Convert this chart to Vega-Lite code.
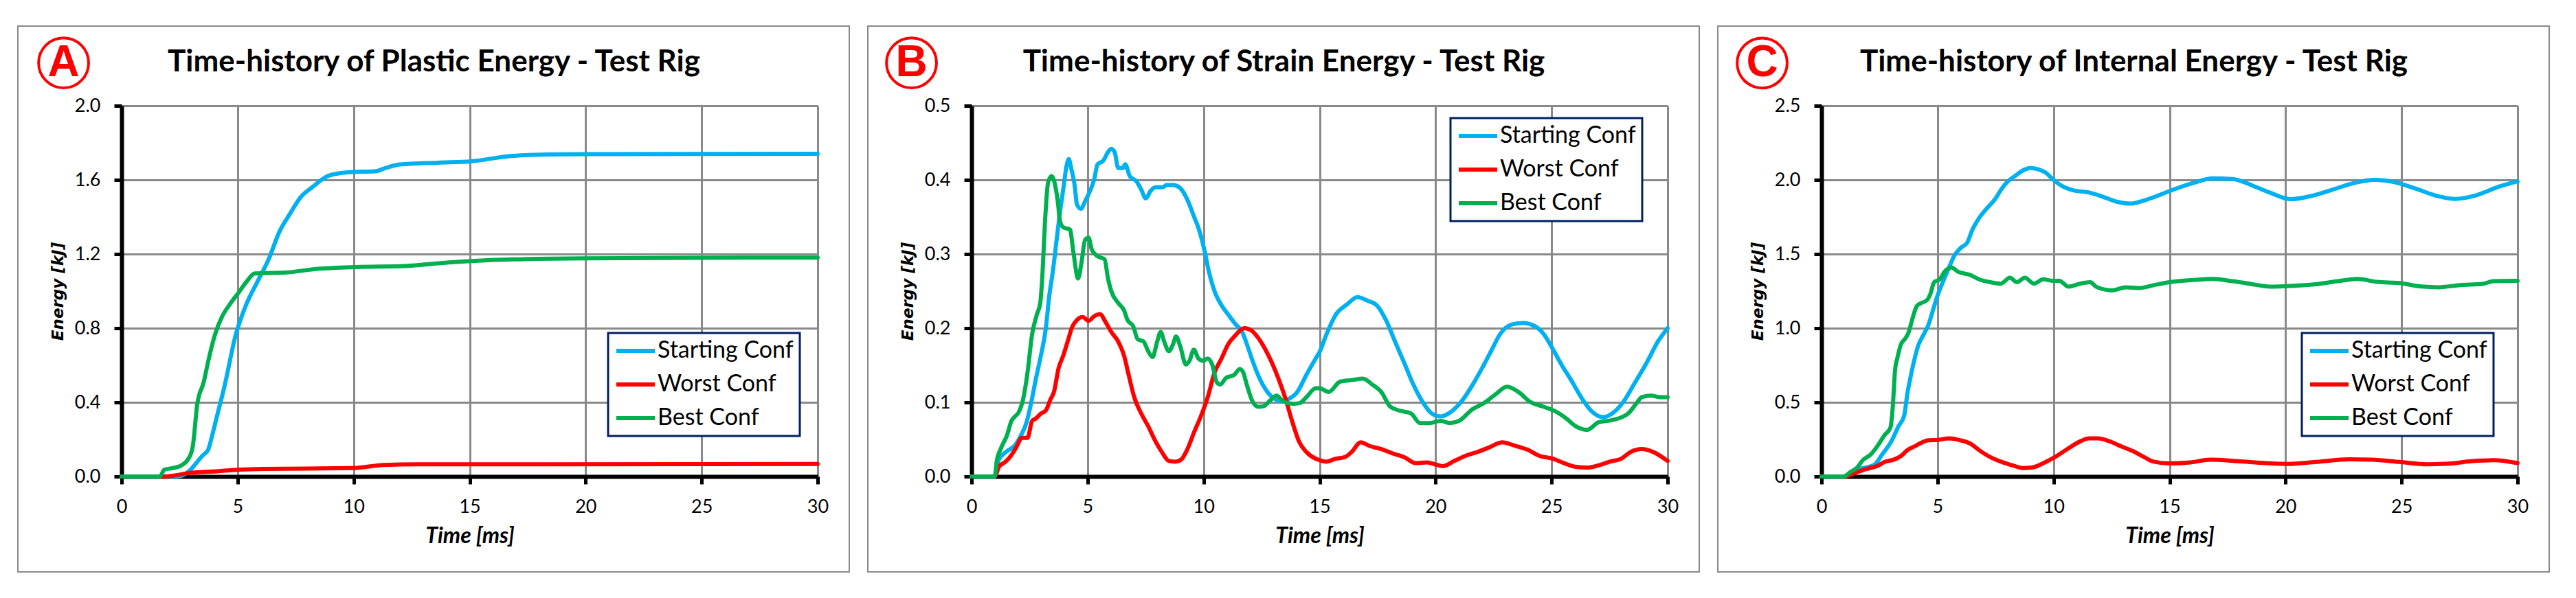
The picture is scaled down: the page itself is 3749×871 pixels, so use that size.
{
"$schema":"https://vega.github.io/schema/vega-lite/v6.json",
"background":"white",
"padding":{"left":25,"top":37,"right":5,"bottom":5},
"config":{
 "view":{"stroke":null},
 "title":{"font":"Lato","fontSize":44,"fontWeight":"bold","color":"black","anchor":"middle","frame":"group","dx":-52,"offset":-76},
 "axis":{"domainColor":"black","domainWidth":6,"tickColor":"black","tickWidth":5,"tickSize":11,"gridColor":"#898989","gridWidth":3,"labelFont":"Lato","labelFontSize":27,"labelColor":"black","labelPadding":20,"labelFlush":false,"labelOverlap":false,"titleColor":"black"},
 "axisX":{"titleFont":"Lato","titleFontSize":32,"titleFontWeight":"bold","titleFontStyle":"italic","titlePadding":14},
 "axisY":{"titleFont":"DejaVu Sans","titleFontSize":23,"titleFontWeight":"bold","titleFontStyle":"italic","titlePadding":12},
 "legend":{"orient":"none","title":null,"direction":"vertical","symbolType":"M-1,0H3","symbolSize":784,"symbolStrokeWidth":6,"labelFont":"Lato","labelFontSize":34,"labelColor":"black","labelOffset":29,"rowPadding":15,"padding":9,"strokeColor":"#002060","strokeWidth":3,"fillColor":"white","labelLimit":0,"zindex":1}
},
"resolve":{"legend":{"color":"independent"}},
"spacing":25,
"datasets":{"energy":[
{"p":"A","s":"Starting Conf","t":0,"v":0},{"p":"A","s":"Starting Conf","t":2.4,"v":0},{"p":"A","s":"Starting Conf","t":2.7,"v":0.01},{"p":"A","s":"Starting Conf","t":3.0,"v":0.04},{"p":"A","s":"Starting Conf","t":3.2,"v":0.07},{"p":"A","s":"Starting Conf","t":3.49,"v":0.113},{"p":"A","s":"Starting Conf","t":3.73,"v":0.144},{"p":"A","s":"Starting Conf","t":3.9,"v":0.22},{"p":"A","s":"Starting Conf","t":4.08,"v":0.31},{"p":"A","s":"Starting Conf","t":4.44,"v":0.49},{"p":"A","s":"Starting Conf","t":4.91,"v":0.76},{"p":"A","s":"Starting Conf","t":5.38,"v":0.93},{"p":"A","s":"Starting Conf","t":5.85,"v":1.05},{"p":"A","s":"Starting Conf","t":6.33,"v":1.17},{"p":"A","s":"Starting Conf","t":6.8,"v":1.32},{"p":"A","s":"Starting Conf","t":7.27,"v":1.42},{"p":"A","s":"Starting Conf","t":7.74,"v":1.51},{"p":"A","s":"Starting Conf","t":8.21,"v":1.56},{"p":"A","s":"Starting Conf","t":8.87,"v":1.62},{"p":"A","s":"Starting Conf","t":9.39,"v":1.636},{"p":"A","s":"Starting Conf","t":9.87,"v":1.642},{"p":"A","s":"Starting Conf","t":10.93,"v":1.646},{"p":"A","s":"Starting Conf","t":11.4,"v":1.665},{"p":"A","s":"Starting Conf","t":11.99,"v":1.683},{"p":"A","s":"Starting Conf","t":13.64,"v":1.693},{"p":"A","s":"Starting Conf","t":15.06,"v":1.7},{"p":"A","s":"Starting Conf","t":16.71,"v":1.728},{"p":"A","s":"Starting Conf","t":18.36,"v":1.737},{"p":"A","s":"Starting Conf","t":20.01,"v":1.739},{"p":"A","s":"Starting Conf","t":30,"v":1.741},
{"p":"A","s":"Worst Conf","t":0,"v":0},{"p":"A","s":"Worst Conf","t":1.84,"v":0},{"p":"A","s":"Worst Conf","t":3.0,"v":0.02},{"p":"A","s":"Worst Conf","t":4.2,"v":0.029},{"p":"A","s":"Worst Conf","t":5.1,"v":0.037},{"p":"A","s":"Worst Conf","t":6.1,"v":0.041},{"p":"A","s":"Worst Conf","t":9.9,"v":0.045},{"p":"A","s":"Worst Conf","t":11.3,"v":0.062},{"p":"A","s":"Worst Conf","t":12.7,"v":0.066},{"p":"A","s":"Worst Conf","t":18.4,"v":0.066},{"p":"A","s":"Worst Conf","t":30,"v":0.068},
{"p":"A","s":"Best Conf","t":0,"v":0},{"p":"A","s":"Best Conf","t":1.65,"v":0},{"p":"A","s":"Best Conf","t":1.84,"v":0.037},{"p":"A","s":"Best Conf","t":2.2,"v":0.045},{"p":"A","s":"Best Conf","t":2.55,"v":0.058},{"p":"A","s":"Best Conf","t":2.9,"v":0.1},{"p":"A","s":"Best Conf","t":3.07,"v":0.165},{"p":"A","s":"Best Conf","t":3.26,"v":0.39},{"p":"A","s":"Best Conf","t":3.54,"v":0.51},{"p":"A","s":"Best Conf","t":3.73,"v":0.62},{"p":"A","s":"Best Conf","t":4.01,"v":0.76},{"p":"A","s":"Best Conf","t":4.32,"v":0.86},{"p":"A","s":"Best Conf","t":4.67,"v":0.93},{"p":"A","s":"Best Conf","t":5.03,"v":0.99},{"p":"A","s":"Best Conf","t":5.38,"v":1.05},{"p":"A","s":"Best Conf","t":5.74,"v":1.095},{"p":"A","s":"Best Conf","t":6.09,"v":1.097},{"p":"A","s":"Best Conf","t":7.03,"v":1.1},{"p":"A","s":"Best Conf","t":8.45,"v":1.12},{"p":"A","s":"Best Conf","t":10.1,"v":1.13},{"p":"A","s":"Best Conf","t":12.2,"v":1.135},{"p":"A","s":"Best Conf","t":14.1,"v":1.155},{"p":"A","s":"Best Conf","t":15.5,"v":1.165},{"p":"A","s":"Best Conf","t":16.9,"v":1.171},{"p":"A","s":"Best Conf","t":20,"v":1.177},{"p":"A","s":"Best Conf","t":30,"v":1.181},
{"p":"B","s":"Starting Conf","t":0,"v":0},{"p":"B","s":"Starting Conf","t":0.98,"v":0},{"p":"B","s":"Starting Conf","t":1.18,"v":0.023},{"p":"B","s":"Starting Conf","t":1.52,"v":0.034},{"p":"B","s":"Starting Conf","t":1.87,"v":0.042},{"p":"B","s":"Starting Conf","t":2.12,"v":0.055},{"p":"B","s":"Starting Conf","t":2.36,"v":0.072},{"p":"B","s":"Starting Conf","t":2.56,"v":0.098},{"p":"B","s":"Starting Conf","t":2.76,"v":0.13},{"p":"B","s":"Starting Conf","t":2.96,"v":0.159},{"p":"B","s":"Starting Conf","t":3.2,"v":0.2},{"p":"B","s":"Starting Conf","t":3.35,"v":0.244},{"p":"B","s":"Starting Conf","t":3.5,"v":0.276},{"p":"B","s":"Starting Conf","t":3.65,"v":0.315},{"p":"B","s":"Starting Conf","t":3.8,"v":0.354},{"p":"B","s":"Starting Conf","t":3.95,"v":0.387},{"p":"B","s":"Starting Conf","t":4.1,"v":0.42},{"p":"B","s":"Starting Conf","t":4.19,"v":0.428},{"p":"B","s":"Starting Conf","t":4.29,"v":0.416},{"p":"B","s":"Starting Conf","t":4.44,"v":0.393},{"p":"B","s":"Starting Conf","t":4.54,"v":0.367},{"p":"B","s":"Starting Conf","t":4.71,"v":0.361},{"p":"B","s":"Starting Conf","t":4.89,"v":0.371},{"p":"B","s":"Starting Conf","t":5.13,"v":0.387},{"p":"B","s":"Starting Conf","t":5.28,"v":0.4},{"p":"B","s":"Starting Conf","t":5.43,"v":0.421},{"p":"B","s":"Starting Conf","t":5.68,"v":0.426},{"p":"B","s":"Starting Conf","t":5.85,"v":0.436},{"p":"B","s":"Starting Conf","t":6.02,"v":0.442},{"p":"B","s":"Starting Conf","t":6.17,"v":0.437},{"p":"B","s":"Starting Conf","t":6.32,"v":0.416},{"p":"B","s":"Starting Conf","t":6.52,"v":0.416},{"p":"B","s":"Starting Conf","t":6.62,"v":0.421},{"p":"B","s":"Starting Conf","t":6.82,"v":0.405},{"p":"B","s":"Starting Conf","t":7.11,"v":0.398},{"p":"B","s":"Starting Conf","t":7.31,"v":0.387},{"p":"B","s":"Starting Conf","t":7.51,"v":0.375},{"p":"B","s":"Starting Conf","t":7.71,"v":0.385},{"p":"B","s":"Starting Conf","t":7.95,"v":0.39},{"p":"B","s":"Starting Conf","t":8.25,"v":0.39},{"p":"B","s":"Starting Conf","t":8.4,"v":0.393},{"p":"B","s":"Starting Conf","t":8.69,"v":0.393},{"p":"B","s":"Starting Conf","t":8.99,"v":0.389},{"p":"B","s":"Starting Conf","t":9.29,"v":0.374},{"p":"B","s":"Starting Conf","t":9.58,"v":0.351},{"p":"B","s":"Starting Conf","t":9.78,"v":0.335},{"p":"B","s":"Starting Conf","t":10.03,"v":0.306},{"p":"B","s":"Starting Conf","t":10.23,"v":0.276},{"p":"B","s":"Starting Conf","t":10.47,"v":0.25},{"p":"B","s":"Starting Conf","t":10.77,"v":0.231},{"p":"B","s":"Starting Conf","t":11.07,"v":0.218},{"p":"B","s":"Starting Conf","t":11.36,"v":0.206},{"p":"B","s":"Starting Conf","t":11.66,"v":0.195},{"p":"B","s":"Starting Conf","t":11.86,"v":0.179},{"p":"B","s":"Starting Conf","t":12.11,"v":0.156},{"p":"B","s":"Starting Conf","t":12.4,"v":0.133},{"p":"B","s":"Starting Conf","t":12.75,"v":0.114},{"p":"B","s":"Starting Conf","t":13.1,"v":0.104},{"p":"B","s":"Starting Conf","t":13.44,"v":0.101},{"p":"B","s":"Starting Conf","t":13.64,"v":0.104},{"p":"B","s":"Starting Conf","t":14.04,"v":0.114},{"p":"B","s":"Starting Conf","t":14.43,"v":0.137},{"p":"B","s":"Starting Conf","t":14.83,"v":0.159},{"p":"B","s":"Starting Conf","t":15.0,"v":0.168},{"p":"B","s":"Starting Conf","t":15.3,"v":0.192},{"p":"B","s":"Starting Conf","t":15.69,"v":0.218},{"p":"B","s":"Starting Conf","t":16.18,"v":0.232},{"p":"B","s":"Starting Conf","t":16.63,"v":0.242},{"p":"B","s":"Starting Conf","t":17.07,"v":0.237},{"p":"B","s":"Starting Conf","t":17.46,"v":0.231},{"p":"B","s":"Starting Conf","t":17.86,"v":0.211},{"p":"B","s":"Starting Conf","t":18.25,"v":0.182},{"p":"B","s":"Starting Conf","t":18.65,"v":0.153},{"p":"B","s":"Starting Conf","t":19.04,"v":0.124},{"p":"B","s":"Starting Conf","t":19.43,"v":0.101},{"p":"B","s":"Starting Conf","t":19.83,"v":0.085},{"p":"B","s":"Starting Conf","t":20.22,"v":0.081},{"p":"B","s":"Starting Conf","t":20.61,"v":0.086},{"p":"B","s":"Starting Conf","t":21.11,"v":0.101},{"p":"B","s":"Starting Conf","t":21.6,"v":0.124},{"p":"B","s":"Starting Conf","t":22.0,"v":0.146},{"p":"B","s":"Starting Conf","t":22.39,"v":0.169},{"p":"B","s":"Starting Conf","t":22.78,"v":0.192},{"p":"B","s":"Starting Conf","t":23.28,"v":0.205},{"p":"B","s":"Starting Conf","t":23.77,"v":0.207},{"p":"B","s":"Starting Conf","t":24.26,"v":0.203},{"p":"B","s":"Starting Conf","t":24.66,"v":0.192},{"p":"B","s":"Starting Conf","t":25.05,"v":0.172},{"p":"B","s":"Starting Conf","t":25.44,"v":0.15},{"p":"B","s":"Starting Conf","t":25.84,"v":0.13},{"p":"B","s":"Starting Conf","t":26.33,"v":0.104},{"p":"B","s":"Starting Conf","t":26.72,"v":0.088},{"p":"B","s":"Starting Conf","t":27.22,"v":0.08},{"p":"B","s":"Starting Conf","t":27.61,"v":0.085},{"p":"B","s":"Starting Conf","t":28.1,"v":0.101},{"p":"B","s":"Starting Conf","t":28.6,"v":0.127},{"p":"B","s":"Starting Conf","t":29.09,"v":0.153},{"p":"B","s":"Starting Conf","t":29.58,"v":0.182},{"p":"B","s":"Starting Conf","t":30,"v":0.2},
{"p":"B","s":"Worst Conf","t":0,"v":0},{"p":"B","s":"Worst Conf","t":1.0,"v":0},{"p":"B","s":"Worst Conf","t":1.18,"v":0.013},{"p":"B","s":"Worst Conf","t":1.47,"v":0.02},{"p":"B","s":"Worst Conf","t":1.72,"v":0.029},{"p":"B","s":"Worst Conf","t":1.92,"v":0.039},{"p":"B","s":"Worst Conf","t":2.17,"v":0.052},{"p":"B","s":"Worst Conf","t":2.41,"v":0.052},{"p":"B","s":"Worst Conf","t":2.61,"v":0.075},{"p":"B","s":"Worst Conf","t":2.76,"v":0.078},{"p":"B","s":"Worst Conf","t":3.0,"v":0.085},{"p":"B","s":"Worst Conf","t":3.2,"v":0.089},{"p":"B","s":"Worst Conf","t":3.4,"v":0.104},{"p":"B","s":"Worst Conf","t":3.55,"v":0.114},{"p":"B","s":"Worst Conf","t":3.75,"v":0.146},{"p":"B","s":"Worst Conf","t":3.95,"v":0.163},{"p":"B","s":"Worst Conf","t":4.14,"v":0.182},{"p":"B","s":"Worst Conf","t":4.34,"v":0.202},{"p":"B","s":"Worst Conf","t":4.54,"v":0.211},{"p":"B","s":"Worst Conf","t":4.79,"v":0.215},{"p":"B","s":"Worst Conf","t":5.04,"v":0.21},{"p":"B","s":"Worst Conf","t":5.28,"v":0.216},{"p":"B","s":"Worst Conf","t":5.53,"v":0.219},{"p":"B","s":"Worst Conf","t":5.78,"v":0.208},{"p":"B","s":"Worst Conf","t":6.02,"v":0.195},{"p":"B","s":"Worst Conf","t":6.32,"v":0.182},{"p":"B","s":"Worst Conf","t":6.57,"v":0.163},{"p":"B","s":"Worst Conf","t":6.77,"v":0.137},{"p":"B","s":"Worst Conf","t":7.01,"v":0.107},{"p":"B","s":"Worst Conf","t":7.31,"v":0.085},{"p":"B","s":"Worst Conf","t":7.61,"v":0.068},{"p":"B","s":"Worst Conf","t":7.9,"v":0.049},{"p":"B","s":"Worst Conf","t":8.2,"v":0.033},{"p":"B","s":"Worst Conf","t":8.5,"v":0.021},{"p":"B","s":"Worst Conf","t":8.79,"v":0.02},{"p":"B","s":"Worst Conf","t":9.04,"v":0.023},{"p":"B","s":"Worst Conf","t":9.29,"v":0.036},{"p":"B","s":"Worst Conf","t":9.58,"v":0.059},{"p":"B","s":"Worst Conf","t":9.88,"v":0.081},{"p":"B","s":"Worst Conf","t":10.18,"v":0.107},{"p":"B","s":"Worst Conf","t":10.47,"v":0.14},{"p":"B","s":"Worst Conf","t":10.77,"v":0.159},{"p":"B","s":"Worst Conf","t":11.07,"v":0.179},{"p":"B","s":"Worst Conf","t":11.36,"v":0.19},{"p":"B","s":"Worst Conf","t":11.76,"v":0.2},{"p":"B","s":"Worst Conf","t":12.06,"v":0.197},{"p":"B","s":"Worst Conf","t":12.35,"v":0.187},{"p":"B","s":"Worst Conf","t":12.65,"v":0.172},{"p":"B","s":"Worst Conf","t":12.95,"v":0.153},{"p":"B","s":"Worst Conf","t":13.25,"v":0.13},{"p":"B","s":"Worst Conf","t":13.54,"v":0.104},{"p":"B","s":"Worst Conf","t":13.84,"v":0.072},{"p":"B","s":"Worst Conf","t":14.13,"v":0.046},{"p":"B","s":"Worst Conf","t":14.43,"v":0.033},{"p":"B","s":"Worst Conf","t":14.83,"v":0.024},{"p":"B","s":"Worst Conf","t":15.0,"v":0.022},{"p":"B","s":"Worst Conf","t":15.3,"v":0.02},{"p":"B","s":"Worst Conf","t":15.69,"v":0.024},{"p":"B","s":"Worst Conf","t":16.08,"v":0.026},{"p":"B","s":"Worst Conf","t":16.38,"v":0.033},{"p":"B","s":"Worst Conf","t":16.77,"v":0.046},{"p":"B","s":"Worst Conf","t":17.17,"v":0.041},{"p":"B","s":"Worst Conf","t":17.66,"v":0.037},{"p":"B","s":"Worst Conf","t":18.15,"v":0.031},{"p":"B","s":"Worst Conf","t":18.65,"v":0.026},{"p":"B","s":"Worst Conf","t":19.14,"v":0.018},{"p":"B","s":"Worst Conf","t":19.63,"v":0.019},{"p":"B","s":"Worst Conf","t":20.02,"v":0.016},{"p":"B","s":"Worst Conf","t":20.32,"v":0.014},{"p":"B","s":"Worst Conf","t":20.81,"v":0.021},{"p":"B","s":"Worst Conf","t":21.3,"v":0.028},{"p":"B","s":"Worst Conf","t":21.8,"v":0.033},{"p":"B","s":"Worst Conf","t":22.29,"v":0.039},{"p":"B","s":"Worst Conf","t":22.88,"v":0.046},{"p":"B","s":"Worst Conf","t":23.37,"v":0.042},{"p":"B","s":"Worst Conf","t":23.97,"v":0.036},{"p":"B","s":"Worst Conf","t":24.46,"v":0.028},{"p":"B","s":"Worst Conf","t":25.05,"v":0.024},{"p":"B","s":"Worst Conf","t":25.54,"v":0.018},{"p":"B","s":"Worst Conf","t":26.03,"v":0.013},{"p":"B","s":"Worst Conf","t":26.53,"v":0.012},{"p":"B","s":"Worst Conf","t":27.02,"v":0.015},{"p":"B","s":"Worst Conf","t":27.51,"v":0.02},{"p":"B","s":"Worst Conf","t":28.0,"v":0.024},{"p":"B","s":"Worst Conf","t":28.4,"v":0.033},{"p":"B","s":"Worst Conf","t":28.89,"v":0.037},{"p":"B","s":"Worst Conf","t":29.38,"v":0.033},{"p":"B","s":"Worst Conf","t":30,"v":0.021},
{"p":"B","s":"Best Conf","t":0,"v":0},{"p":"B","s":"Best Conf","t":1.0,"v":0},{"p":"B","s":"Best Conf","t":1.08,"v":0.02},{"p":"B","s":"Best Conf","t":1.28,"v":0.039},{"p":"B","s":"Best Conf","t":1.52,"v":0.055},{"p":"B","s":"Best Conf","t":1.72,"v":0.075},{"p":"B","s":"Best Conf","t":1.87,"v":0.081},{"p":"B","s":"Best Conf","t":2.02,"v":0.086},{"p":"B","s":"Best Conf","t":2.22,"v":0.104},{"p":"B","s":"Best Conf","t":2.41,"v":0.14},{"p":"B","s":"Best Conf","t":2.61,"v":0.192},{"p":"B","s":"Best Conf","t":2.81,"v":0.218},{"p":"B","s":"Best Conf","t":2.96,"v":0.234},{"p":"B","s":"Best Conf","t":3.06,"v":0.276},{"p":"B","s":"Best Conf","t":3.16,"v":0.341},{"p":"B","s":"Best Conf","t":3.3,"v":0.397},{"p":"B","s":"Best Conf","t":3.45,"v":0.405},{"p":"B","s":"Best Conf","t":3.6,"v":0.393},{"p":"B","s":"Best Conf","t":3.73,"v":0.367},{"p":"B","s":"Best Conf","t":3.8,"v":0.346},{"p":"B","s":"Best Conf","t":3.95,"v":0.336},{"p":"B","s":"Best Conf","t":4.24,"v":0.333},{"p":"B","s":"Best Conf","t":4.39,"v":0.302},{"p":"B","s":"Best Conf","t":4.59,"v":0.267},{"p":"B","s":"Best Conf","t":4.74,"v":0.289},{"p":"B","s":"Best Conf","t":4.89,"v":0.319},{"p":"B","s":"Best Conf","t":5.04,"v":0.322},{"p":"B","s":"Best Conf","t":5.18,"v":0.306},{"p":"B","s":"Best Conf","t":5.43,"v":0.297},{"p":"B","s":"Best Conf","t":5.73,"v":0.293},{"p":"B","s":"Best Conf","t":5.88,"v":0.267},{"p":"B","s":"Best Conf","t":6.02,"v":0.25},{"p":"B","s":"Best Conf","t":6.32,"v":0.234},{"p":"B","s":"Best Conf","t":6.57,"v":0.224},{"p":"B","s":"Best Conf","t":6.72,"v":0.211},{"p":"B","s":"Best Conf","t":6.96,"v":0.203},{"p":"B","s":"Best Conf","t":7.16,"v":0.185},{"p":"B","s":"Best Conf","t":7.41,"v":0.182},{"p":"B","s":"Best Conf","t":7.61,"v":0.169},{"p":"B","s":"Best Conf","t":7.8,"v":0.161},{"p":"B","s":"Best Conf","t":8.0,"v":0.182},{"p":"B","s":"Best Conf","t":8.15,"v":0.195},{"p":"B","s":"Best Conf","t":8.3,"v":0.182},{"p":"B","s":"Best Conf","t":8.5,"v":0.169},{"p":"B","s":"Best Conf","t":8.69,"v":0.179},{"p":"B","s":"Best Conf","t":8.81,"v":0.189},{"p":"B","s":"Best Conf","t":8.99,"v":0.176},{"p":"B","s":"Best Conf","t":9.24,"v":0.151},{"p":"B","s":"Best Conf","t":9.39,"v":0.156},{"p":"B","s":"Best Conf","t":9.58,"v":0.171},{"p":"B","s":"Best Conf","t":9.78,"v":0.159},{"p":"B","s":"Best Conf","t":9.98,"v":0.156},{"p":"B","s":"Best Conf","t":10.18,"v":0.159},{"p":"B","s":"Best Conf","t":10.38,"v":0.15},{"p":"B","s":"Best Conf","t":10.57,"v":0.127},{"p":"B","s":"Best Conf","t":10.72,"v":0.124},{"p":"B","s":"Best Conf","t":10.97,"v":0.133},{"p":"B","s":"Best Conf","t":11.32,"v":0.137},{"p":"B","s":"Best Conf","t":11.56,"v":0.145},{"p":"B","s":"Best Conf","t":11.71,"v":0.14},{"p":"B","s":"Best Conf","t":11.86,"v":0.124},{"p":"B","s":"Best Conf","t":12.11,"v":0.101},{"p":"B","s":"Best Conf","t":12.35,"v":0.094},{"p":"B","s":"Best Conf","t":12.6,"v":0.095},{"p":"B","s":"Best Conf","t":12.85,"v":0.102},{"p":"B","s":"Best Conf","t":13.15,"v":0.109},{"p":"B","s":"Best Conf","t":13.44,"v":0.101},{"p":"B","s":"Best Conf","t":13.84,"v":0.098},{"p":"B","s":"Best Conf","t":14.14,"v":0.099},{"p":"B","s":"Best Conf","t":14.43,"v":0.107},{"p":"B","s":"Best Conf","t":14.83,"v":0.119},{"p":"B","s":"Best Conf","t":15.0,"v":0.119},{"p":"B","s":"Best Conf","t":15.39,"v":0.114},{"p":"B","s":"Best Conf","t":15.89,"v":0.128},{"p":"B","s":"Best Conf","t":16.38,"v":0.13},{"p":"B","s":"Best Conf","t":16.87,"v":0.132},{"p":"B","s":"Best Conf","t":17.27,"v":0.124},{"p":"B","s":"Best Conf","t":17.66,"v":0.114},{"p":"B","s":"Best Conf","t":18.05,"v":0.094},{"p":"B","s":"Best Conf","t":18.55,"v":0.088},{"p":"B","s":"Best Conf","t":18.94,"v":0.085},{"p":"B","s":"Best Conf","t":19.33,"v":0.072},{"p":"B","s":"Best Conf","t":19.73,"v":0.072},{"p":"B","s":"Best Conf","t":20.22,"v":0.075},{"p":"B","s":"Best Conf","t":20.61,"v":0.072},{"p":"B","s":"Best Conf","t":21.01,"v":0.075},{"p":"B","s":"Best Conf","t":21.6,"v":0.091},{"p":"B","s":"Best Conf","t":22.09,"v":0.099},{"p":"B","s":"Best Conf","t":22.59,"v":0.111},{"p":"B","s":"Best Conf","t":23.08,"v":0.121},{"p":"B","s":"Best Conf","t":23.57,"v":0.114},{"p":"B","s":"Best Conf","t":24.06,"v":0.101},{"p":"B","s":"Best Conf","t":24.66,"v":0.094},{"p":"B","s":"Best Conf","t":25.15,"v":0.088},{"p":"B","s":"Best Conf","t":25.64,"v":0.078},{"p":"B","s":"Best Conf","t":26.03,"v":0.068},{"p":"B","s":"Best Conf","t":26.53,"v":0.063},{"p":"B","s":"Best Conf","t":27.02,"v":0.073},{"p":"B","s":"Best Conf","t":27.61,"v":0.076},{"p":"B","s":"Best Conf","t":28.3,"v":0.085},{"p":"B","s":"Best Conf","t":28.64,"v":0.098},{"p":"B","s":"Best Conf","t":28.89,"v":0.107},{"p":"B","s":"Best Conf","t":29.29,"v":0.109},{"p":"B","s":"Best Conf","t":29.68,"v":0.107},{"p":"B","s":"Best Conf","t":30,"v":0.107},
{"p":"C","s":"Starting Conf","t":0,"v":0},{"p":"C","s":"Starting Conf","t":0.94,"v":0},{"p":"C","s":"Starting Conf","t":1.63,"v":0.05},{"p":"C","s":"Starting Conf","t":2.28,"v":0.08},{"p":"C","s":"Starting Conf","t":2.62,"v":0.15},{"p":"C","s":"Starting Conf","t":3.02,"v":0.24},{"p":"C","s":"Starting Conf","t":3.32,"v":0.34},{"p":"C","s":"Starting Conf","t":3.56,"v":0.41},{"p":"C","s":"Starting Conf","t":3.71,"v":0.57},{"p":"C","s":"Starting Conf","t":3.81,"v":0.65},{"p":"C","s":"Starting Conf","t":3.96,"v":0.76},{"p":"C","s":"Starting Conf","t":4.16,"v":0.88},{"p":"C","s":"Starting Conf","t":4.41,"v":0.96},{"p":"C","s":"Starting Conf","t":4.6,"v":1.02},{"p":"C","s":"Starting Conf","t":4.8,"v":1.12},{"p":"C","s":"Starting Conf","t":5.0,"v":1.22},{"p":"C","s":"Starting Conf","t":5.2,"v":1.3},{"p":"C","s":"Starting Conf","t":5.5,"v":1.41},{"p":"C","s":"Starting Conf","t":5.69,"v":1.48},{"p":"C","s":"Starting Conf","t":5.99,"v":1.54},{"p":"C","s":"Starting Conf","t":6.29,"v":1.58},{"p":"C","s":"Starting Conf","t":6.49,"v":1.66},{"p":"C","s":"Starting Conf","t":6.78,"v":1.74},{"p":"C","s":"Starting Conf","t":7.08,"v":1.8},{"p":"C","s":"Starting Conf","t":7.48,"v":1.87},{"p":"C","s":"Starting Conf","t":7.72,"v":1.93},{"p":"C","s":"Starting Conf","t":7.97,"v":1.98},{"p":"C","s":"Starting Conf","t":8.37,"v":2.03},{"p":"C","s":"Starting Conf","t":8.76,"v":2.07},{"p":"C","s":"Starting Conf","t":9.01,"v":2.08},{"p":"C","s":"Starting Conf","t":9.36,"v":2.07},{"p":"C","s":"Starting Conf","t":9.65,"v":2.05},{"p":"C","s":"Starting Conf","t":10.0,"v":2.0},{"p":"C","s":"Starting Conf","t":10.35,"v":1.96},{"p":"C","s":"Starting Conf","t":10.84,"v":1.93},{"p":"C","s":"Starting Conf","t":11.53,"v":1.915},{"p":"C","s":"Starting Conf","t":12.13,"v":1.886},{"p":"C","s":"Starting Conf","t":12.72,"v":1.853},{"p":"C","s":"Starting Conf","t":13.32,"v":1.84},{"p":"C","s":"Starting Conf","t":13.9,"v":1.861},{"p":"C","s":"Starting Conf","t":14.5,"v":1.894},{"p":"C","s":"Starting Conf","t":15.0,"v":1.925},{"p":"C","s":"Starting Conf","t":16.03,"v":1.98},{"p":"C","s":"Starting Conf","t":16.87,"v":2.01},{"p":"C","s":"Starting Conf","t":17.71,"v":2.006},{"p":"C","s":"Starting Conf","t":18.67,"v":1.955},{"p":"C","s":"Starting Conf","t":19.39,"v":1.91},{"p":"C","s":"Starting Conf","t":20.22,"v":1.87},{"p":"C","s":"Starting Conf","t":21.06,"v":1.89},{"p":"C","s":"Starting Conf","t":22.02,"v":1.934},{"p":"C","s":"Starting Conf","t":22.98,"v":1.98},{"p":"C","s":"Starting Conf","t":23.82,"v":2.0},{"p":"C","s":"Starting Conf","t":24.66,"v":1.986},{"p":"C","s":"Starting Conf","t":25.62,"v":1.94},{"p":"C","s":"Starting Conf","t":26.58,"v":1.89},{"p":"C","s":"Starting Conf","t":27.29,"v":1.872},{"p":"C","s":"Starting Conf","t":28.25,"v":1.898},{"p":"C","s":"Starting Conf","t":29.21,"v":1.955},{"p":"C","s":"Starting Conf","t":30,"v":1.99},
{"p":"C","s":"Worst Conf","t":0,"v":0},{"p":"C","s":"Worst Conf","t":1.0,"v":0},{"p":"C","s":"Worst Conf","t":1.44,"v":0.024},{"p":"C","s":"Worst Conf","t":1.93,"v":0.05},{"p":"C","s":"Worst Conf","t":2.43,"v":0.073},{"p":"C","s":"Worst Conf","t":2.72,"v":0.098},{"p":"C","s":"Worst Conf","t":3.12,"v":0.114},{"p":"C","s":"Worst Conf","t":3.42,"v":0.138},{"p":"C","s":"Worst Conf","t":3.71,"v":0.179},{"p":"C","s":"Worst Conf","t":4.01,"v":0.203},{"p":"C","s":"Worst Conf","t":4.31,"v":0.228},{"p":"C","s":"Worst Conf","t":4.6,"v":0.244},{"p":"C","s":"Worst Conf","t":5.0,"v":0.247},{"p":"C","s":"Worst Conf","t":5.5,"v":0.257},{"p":"C","s":"Worst Conf","t":5.99,"v":0.244},{"p":"C","s":"Worst Conf","t":6.44,"v":0.219},{"p":"C","s":"Worst Conf","t":6.78,"v":0.179},{"p":"C","s":"Worst Conf","t":7.28,"v":0.13},{"p":"C","s":"Worst Conf","t":7.77,"v":0.098},{"p":"C","s":"Worst Conf","t":8.27,"v":0.073},{"p":"C","s":"Worst Conf","t":8.66,"v":0.057},{"p":"C","s":"Worst Conf","t":9.06,"v":0.06},{"p":"C","s":"Worst Conf","t":9.55,"v":0.089},{"p":"C","s":"Worst Conf","t":10.05,"v":0.13},{"p":"C","s":"Worst Conf","t":10.54,"v":0.179},{"p":"C","s":"Worst Conf","t":11.04,"v":0.228},{"p":"C","s":"Worst Conf","t":11.53,"v":0.257},{"p":"C","s":"Worst Conf","t":11.93,"v":0.257},{"p":"C","s":"Worst Conf","t":12.43,"v":0.236},{"p":"C","s":"Worst Conf","t":12.92,"v":0.203},{"p":"C","s":"Worst Conf","t":13.42,"v":0.171},{"p":"C","s":"Worst Conf","t":13.91,"v":0.13},{"p":"C","s":"Worst Conf","t":14.31,"v":0.1},{"p":"C","s":"Worst Conf","t":15.0,"v":0.088},{"p":"C","s":"Worst Conf","t":15.9,"v":0.095},{"p":"C","s":"Worst Conf","t":16.75,"v":0.113},{"p":"C","s":"Worst Conf","t":17.95,"v":0.103},{"p":"C","s":"Worst Conf","t":19.15,"v":0.09},{"p":"C","s":"Worst Conf","t":20.1,"v":0.085},{"p":"C","s":"Worst Conf","t":21.3,"v":0.098},{"p":"C","s":"Worst Conf","t":22.74,"v":0.116},{"p":"C","s":"Worst Conf","t":23.7,"v":0.113},{"p":"C","s":"Worst Conf","t":24.9,"v":0.098},{"p":"C","s":"Worst Conf","t":26.1,"v":0.082},{"p":"C","s":"Worst Conf","t":27.05,"v":0.087},{"p":"C","s":"Worst Conf","t":28.01,"v":0.103},{"p":"C","s":"Worst Conf","t":28.97,"v":0.11},{"p":"C","s":"Worst Conf","t":30,"v":0.09},
{"p":"C","s":"Best Conf","t":0,"v":0},{"p":"C","s":"Best Conf","t":0.95,"v":0},{"p":"C","s":"Best Conf","t":1.24,"v":0.03},{"p":"C","s":"Best Conf","t":1.53,"v":0.06},{"p":"C","s":"Best Conf","t":1.78,"v":0.11},{"p":"C","s":"Best Conf","t":2.13,"v":0.15},{"p":"C","s":"Best Conf","t":2.43,"v":0.21},{"p":"C","s":"Best Conf","t":2.72,"v":0.28},{"p":"C","s":"Best Conf","t":2.97,"v":0.33},{"p":"C","s":"Best Conf","t":3.07,"v":0.47},{"p":"C","s":"Best Conf","t":3.17,"v":0.72},{"p":"C","s":"Best Conf","t":3.27,"v":0.8},{"p":"C","s":"Best Conf","t":3.42,"v":0.89},{"p":"C","s":"Best Conf","t":3.61,"v":0.93},{"p":"C","s":"Best Conf","t":3.76,"v":0.975},{"p":"C","s":"Best Conf","t":3.91,"v":1.06},{"p":"C","s":"Best Conf","t":4.11,"v":1.15},{"p":"C","s":"Best Conf","t":4.31,"v":1.17},{"p":"C","s":"Best Conf","t":4.55,"v":1.19},{"p":"C","s":"Best Conf","t":4.7,"v":1.235},{"p":"C","s":"Best Conf","t":4.85,"v":1.31},{"p":"C","s":"Best Conf","t":5.1,"v":1.33},{"p":"C","s":"Best Conf","t":5.3,"v":1.38},{"p":"C","s":"Best Conf","t":5.59,"v":1.41},{"p":"C","s":"Best Conf","t":5.89,"v":1.38},{"p":"C","s":"Best Conf","t":6.39,"v":1.36},{"p":"C","s":"Best Conf","t":6.78,"v":1.33},{"p":"C","s":"Best Conf","t":7.28,"v":1.31},{"p":"C","s":"Best Conf","t":7.72,"v":1.3},{"p":"C","s":"Best Conf","t":8.12,"v":1.34},{"p":"C","s":"Best Conf","t":8.42,"v":1.31},{"p":"C","s":"Best Conf","t":8.76,"v":1.34},{"p":"C","s":"Best Conf","t":9.16,"v":1.3},{"p":"C","s":"Best Conf","t":9.55,"v":1.33},{"p":"C","s":"Best Conf","t":9.95,"v":1.32},{"p":"C","s":"Best Conf","t":10.25,"v":1.32},{"p":"C","s":"Best Conf","t":10.64,"v":1.28},{"p":"C","s":"Best Conf","t":11.14,"v":1.3},{"p":"C","s":"Best Conf","t":11.58,"v":1.31},{"p":"C","s":"Best Conf","t":11.83,"v":1.28},{"p":"C","s":"Best Conf","t":12.23,"v":1.26},{"p":"C","s":"Best Conf","t":12.52,"v":1.255},{"p":"C","s":"Best Conf","t":13.12,"v":1.276},{"p":"C","s":"Best Conf","t":13.71,"v":1.271},{"p":"C","s":"Best Conf","t":14.31,"v":1.29},{"p":"C","s":"Best Conf","t":15.0,"v":1.31},{"p":"C","s":"Best Conf","t":16.03,"v":1.325},{"p":"C","s":"Best Conf","t":16.87,"v":1.332},{"p":"C","s":"Best Conf","t":17.71,"v":1.317},{"p":"C","s":"Best Conf","t":18.43,"v":1.3},{"p":"C","s":"Best Conf","t":19.39,"v":1.28},{"p":"C","s":"Best Conf","t":20.35,"v":1.286},{"p":"C","s":"Best Conf","t":21.3,"v":1.296},{"p":"C","s":"Best Conf","t":22.26,"v":1.317},{"p":"C","s":"Best Conf","t":23.1,"v":1.332},{"p":"C","s":"Best Conf","t":23.94,"v":1.312},{"p":"C","s":"Best Conf","t":24.9,"v":1.304},{"p":"C","s":"Best Conf","t":25.86,"v":1.281},{"p":"C","s":"Best Conf","t":26.58,"v":1.276},{"p":"C","s":"Best Conf","t":27.53,"v":1.291},{"p":"C","s":"Best Conf","t":28.49,"v":1.299},{"p":"C","s":"Best Conf","t":28.97,"v":1.317},{"p":"C","s":"Best Conf","t":30,"v":1.319}
]},
"hconcat":[
{"width":1013,"height":540,
 "title":{"text":"Time-history of Plastic Energy - Test Rig"},
 "resolve":{"axis":{"x":"independent","y":"independent"}},
 "layer":[
  {"data":{"name":"energy"},"transform":[{"filter":"datum.p==='A'"}],
   "mark":{"type":"line","strokeWidth":6,"interpolate":"monotone","strokeJoin":"round","strokeCap":"round"},
   "encoding":{
    "x":{"field":"t","type":"quantitative","scale":{"domain":[0,30],"nice":false},"axis":{"title":"Time [ms]","values":[0,5,10,15,20,25,30]}},
    "y":{"field":"v","type":"quantitative","scale":{"domain":[0,2],"nice":false},"axis":{"title":"Energy [kJ]","values":[0,0.4,0.8,1.2,1.6,2.0],"format":".1f"}},
    "color":{"field":"s","type":"nominal","sort":null,"scale":{"domain":["Starting Conf","Worst Conf","Best Conf"],"range":["#00B0F0","#FF0000","#00B050"]},"legend":{"legendX":708,"legendY":331}}}},
  {"data":{"values":[{"k":"A"}]},"mark":{"type":"rect","filled":false,"color":"#898989","stroke":"#898989","strokeWidth":2,"clip":false},
   "encoding":{"x":{"datum":-4.471,"type":"quantitative","scale":{"domain":[0,30],"nice":false},"axis":null},"x2":{"datum":31.362},"y":{"datum":-0.5148,"type":"quantitative","scale":{"domain":[0,2],"nice":false},"axis":null},"y2":{"datum":2.4296}}},
  {"data":{"values":[{"k":"A"}]},"mark":{"type":"point","shape":"circle","size":5300,"filled":false,"color":"#FF0000","stroke":"#FF0000","strokeWidth":4,"opacity":1,"clip":false},
   "encoding":{"x":{"datum":-2.5,"type":"quantitative","scale":{"domain":[0,30],"nice":false},"axis":null},"y":{"datum":2.231,"type":"quantitative","scale":{"domain":[0,2],"nice":false},"axis":null}}},
  {"data":{"values":[{"k":"A"}]},"mark":{"type":"text","font":"Liberation Sans","fontWeight":"bold","fontSize":64,"color":"#FF0000","align":"center","baseline":"middle","clip":false},
   "encoding":{"text":{"field":"k","type":"nominal"},"x":{"datum":-2.5,"type":"quantitative","scale":{"domain":[0,30],"nice":false},"axis":null},"y":{"datum":2.231,"type":"quantitative","scale":{"domain":[0,2],"nice":false},"axis":null}}}
 ]},
{"width":1013,"height":540,
 "title":{"text":"Time-history of Strain Energy - Test Rig"},
 "resolve":{"axis":{"x":"independent","y":"independent"}},
 "layer":[
  {"data":{"name":"energy"},"transform":[{"filter":"datum.p==='B'"}],
   "mark":{"type":"line","strokeWidth":6,"interpolate":"monotone","strokeJoin":"round","strokeCap":"round"},
   "encoding":{
    "x":{"field":"t","type":"quantitative","scale":{"domain":[0,30],"nice":false},"axis":{"title":"Time [ms]","values":[0,5,10,15,20,25,30]}},
    "y":{"field":"v","type":"quantitative","scale":{"domain":[0,0.5],"nice":false},"axis":{"title":"Energy [kJ]","values":[0,0.1,0.2,0.3,0.4,0.5],"format":".1f"}},
    "color":{"field":"s","type":"nominal","sort":null,"scale":{"domain":["Starting Conf","Worst Conf","Best Conf"],"range":["#00B0F0","#FF0000","#00B050"]},"legend":{"legendX":697,"legendY":18}}}},
  {"data":{"values":[{"k":"B"}]},"mark":{"type":"rect","filled":false,"color":"#898989","stroke":"#898989","strokeWidth":2,"clip":false},
   "encoding":{"x":{"datum":-4.471,"type":"quantitative","scale":{"domain":[0,30],"nice":false},"axis":null},"x2":{"datum":31.362},"y":{"datum":-0.1287,"type":"quantitative","scale":{"domain":[0,0.5],"nice":false},"axis":null},"y2":{"datum":0.6074}}},
  {"data":{"values":[{"k":"B"}]},"mark":{"type":"point","shape":"circle","size":5300,"filled":false,"color":"#FF0000","stroke":"#FF0000","strokeWidth":4,"opacity":1,"clip":false},
   "encoding":{"x":{"datum":-2.59,"type":"quantitative","scale":{"domain":[0,30],"nice":false},"axis":null},"y":{"datum":0.5577,"type":"quantitative","scale":{"domain":[0,0.5],"nice":false},"axis":null}}},
  {"data":{"values":[{"k":"B"}]},"mark":{"type":"text","font":"Liberation Sans","fontWeight":"bold","fontSize":64,"color":"#FF0000","align":"center","baseline":"middle","clip":false},
   "encoding":{"text":{"field":"k","type":"nominal"},"x":{"datum":-2.59,"type":"quantitative","scale":{"domain":[0,30],"nice":false},"axis":null},"y":{"datum":0.5577,"type":"quantitative","scale":{"domain":[0,0.5],"nice":false},"axis":null}}}
 ]},
{"width":1013,"height":540,
 "title":{"text":"Time-history of Internal Energy - Test Rig"},
 "resolve":{"axis":{"x":"independent","y":"independent"}},
 "layer":[
  {"data":{"name":"energy"},"transform":[{"filter":"datum.p==='C'"}],
   "mark":{"type":"line","strokeWidth":6,"interpolate":"monotone","strokeJoin":"round","strokeCap":"round"},
   "encoding":{
    "x":{"field":"t","type":"quantitative","scale":{"domain":[0,30],"nice":false},"axis":{"title":"Time [ms]","values":[0,5,10,15,20,25,30]}},
    "y":{"field":"v","type":"quantitative","scale":{"domain":[0,2.5],"nice":false},"axis":{"title":"Energy [kJ]","values":[0,0.5,1.0,1.5,2.0,2.5],"format":".1f"}},
    "color":{"field":"s","type":"nominal","sort":null,"scale":{"domain":["Starting Conf","Worst Conf","Best Conf"],"range":["#00B0F0","#FF0000","#00B050"]},"legend":{"legendX":699,"legendY":331}}}},
  {"data":{"values":[{"k":"C"}]},"mark":{"type":"rect","filled":false,"color":"#898989","stroke":"#898989","strokeWidth":2,"clip":false},
   "encoding":{"x":{"datum":-4.471,"type":"quantitative","scale":{"domain":[0,30],"nice":false},"axis":null},"x2":{"datum":31.362},"y":{"datum":-0.6435,"type":"quantitative","scale":{"domain":[0,2.5],"nice":false},"axis":null},"y2":{"datum":3.037}}},
  {"data":{"values":[{"k":"C"}]},"mark":{"type":"point","shape":"circle","size":5300,"filled":false,"color":"#FF0000","stroke":"#FF0000","strokeWidth":4,"opacity":1,"clip":false},
   "encoding":{"x":{"datum":-2.56,"type":"quantitative","scale":{"domain":[0,30],"nice":false},"axis":null},"y":{"datum":2.788,"type":"quantitative","scale":{"domain":[0,2.5],"nice":false},"axis":null}}},
  {"data":{"values":[{"k":"C"}]},"mark":{"type":"text","font":"Liberation Sans","fontWeight":"bold","fontSize":64,"color":"#FF0000","align":"center","baseline":"middle","clip":false},
   "encoding":{"text":{"field":"k","type":"nominal"},"x":{"datum":-2.56,"type":"quantitative","scale":{"domain":[0,30],"nice":false},"axis":null},"y":{"datum":2.788,"type":"quantitative","scale":{"domain":[0,2.5],"nice":false},"axis":null}}}
 ]}
]
}
